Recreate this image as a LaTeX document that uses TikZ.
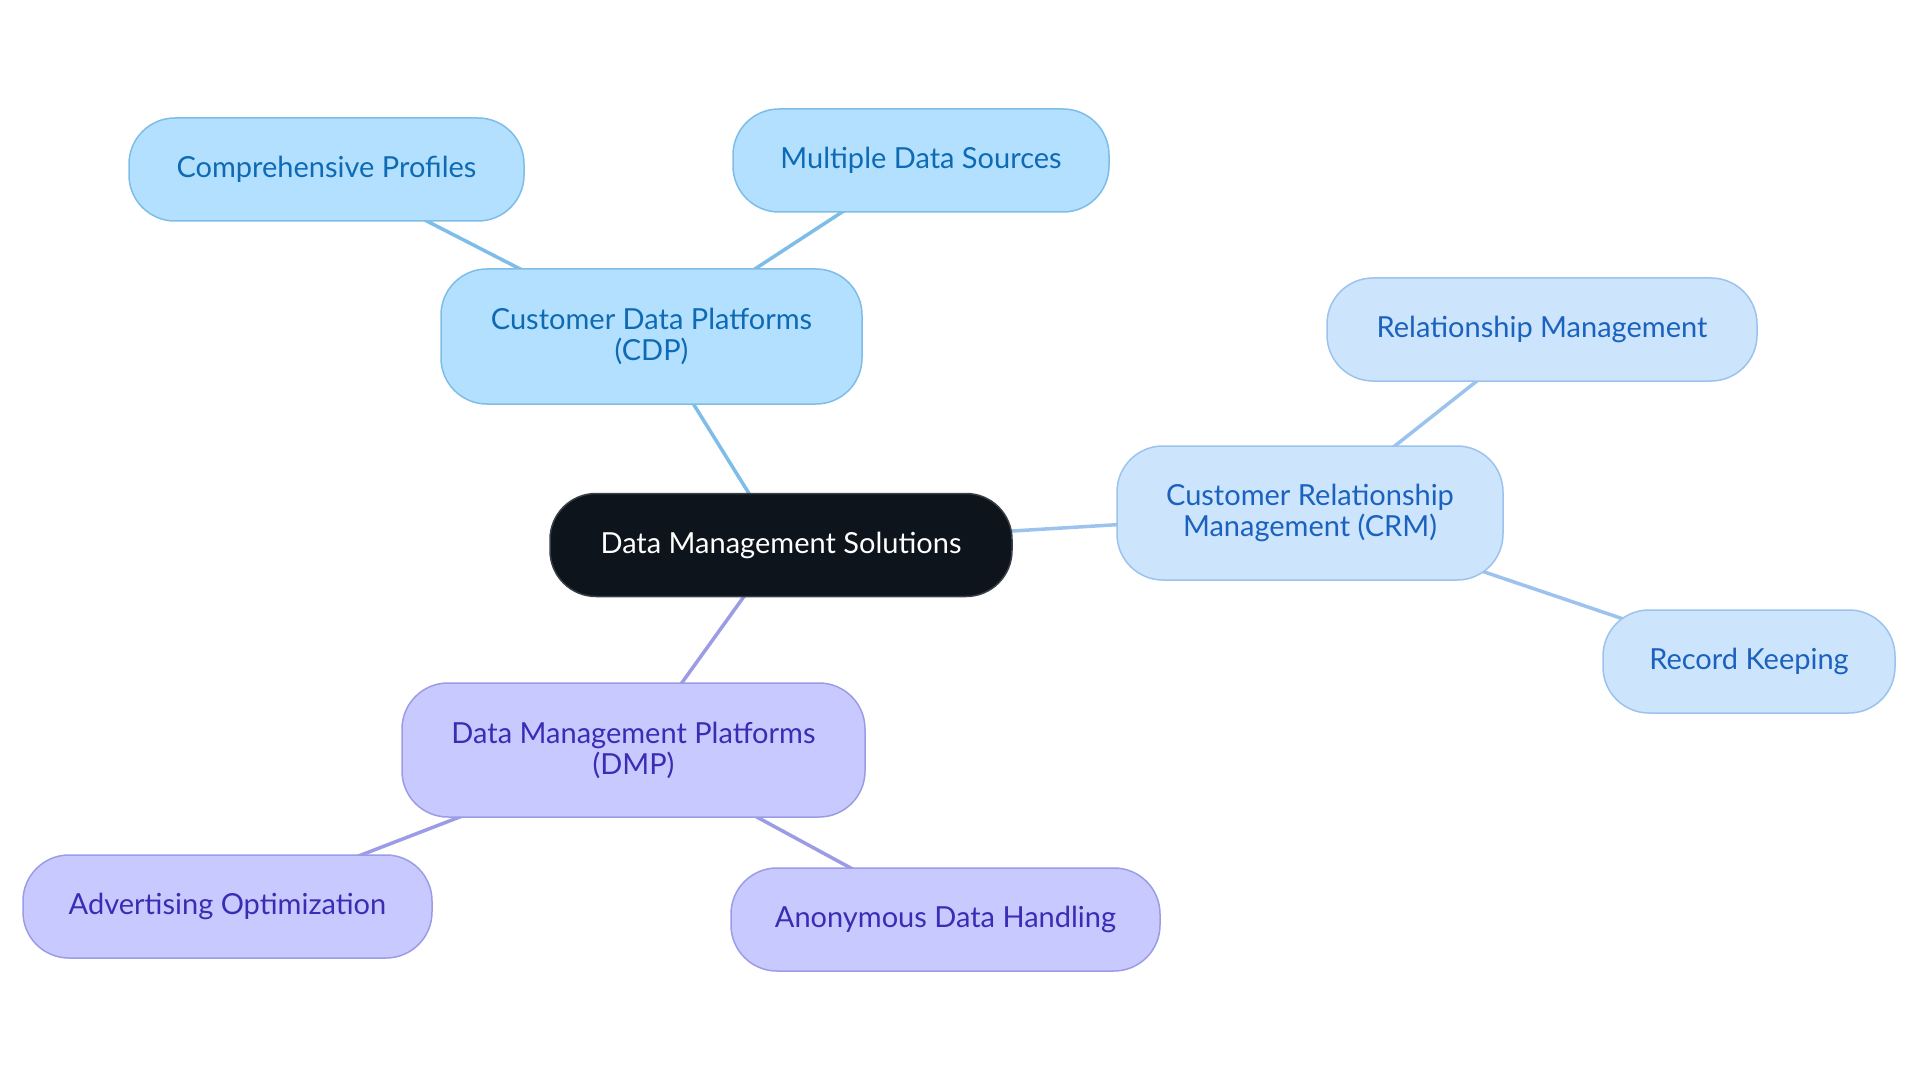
\documentclass[tikz,border=0pt]{standalone}
\usepackage{fontspec}
\setmainfont{Lato}
\usetikzlibrary{backgrounds}
\definecolor{rootfill}{HTML}{0D141C}
\definecolor{rootline}{HTML}{3A4048}
\definecolor{cdpfill}{HTML}{B3E0FF}
\definecolor{cdpline}{HTML}{7DBDE8}
\definecolor{cdptext}{HTML}{0F6AB4}
\definecolor{crmfill}{HTML}{CCE4FC}
\definecolor{crmline}{HTML}{9CC3EE}
\definecolor{crmtext}{HTML}{1B62BE}
\definecolor{dmpfill}{HTML}{C8CAFF}
\definecolor{dmpline}{HTML}{9C9CE6}
\definecolor{dmptext}{HTML}{3A2DB4}
\begin{document}
\begin{tikzpicture}[x=1pt,y=-1pt,
    pill/.style={draw, line width=1.5pt, rounded corners=46pt, align=center,
      inner sep=0pt, font=\fontsize{29}{31}\selectfont},
    root/.style={pill, fill=rootfill, draw=rootline, text=white},
    cdp/.style={pill, fill=cdpfill, draw=cdpline, text=cdptext},
    crm/.style={pill, fill=crmfill, draw=crmline, text=crmtext},
    dmp/.style={pill, fill=dmpfill, draw=dmpline, text=dmptext},
    link/.style={line width=3.5pt}]
  \useasboundingbox (0,0) rectangle (1920,1083);
  % centre
  \node[root, minimum width=462pt, minimum height=103pt] (dms) at (781,545) {Data Management Solutions};
  % customer data platforms
  \node[cdp, minimum width=421pt, minimum height=135pt] (cdp) at (651.5,336.5) {Customer Data Platforms\\(CDP)};
  \node[cdp, minimum width=395pt, minimum height=103pt] (profiles) at (326.5,169.5) {Comprehensive Profiles};
  \node[cdp, minimum width=376pt, minimum height=103pt] (sources) at (921,160.5) {Multiple Data Sources};
  % customer relationship management
  \node[crm, minimum width=386pt, minimum height=134pt] (crm) at (1310,513) {Customer Relationship\\Management (CRM)};
  \node[crm, minimum width=430pt, minimum height=103pt] (relation) at (1542,329.5) {Relationship Management};
  \node[crm, minimum width=292pt, minimum height=103pt] (records) at (1749,661.5) {Record Keeping};
  % data management platforms
  \node[dmp, minimum width=463pt, minimum height=134pt] (dmp) at (633.5,750) {Data Management Platforms\\(DMP)};
  \node[dmp, minimum width=409pt, minimum height=103pt] (advert) at (227.5,906.5) {Advertising Optimization};
  \node[dmp, minimum width=429pt, minimum height=103pt] (anon) at (945.5,919.5) {Anonymous Data Handling};
  \begin{scope}[on background layer]
    \fill[white] (0,0) rectangle (1920,1083);
    \draw[link, cdpline] (dms.center) -- (cdp.center);
    \draw[link, cdpline] (cdp.center) -- (profiles.center);
    \draw[link, cdpline] (cdp.center) -- (sources.center);
    \draw[link, crmline] (dms.center) -- (crm.center);
    \draw[link, crmline] (crm.center) -- (relation.center);
    \draw[link, crmline] (crm.center) -- (records.center);
    \draw[link, dmpline] (dms.center) -- (dmp.center);
    \draw[link, dmpline] (dmp.center) -- (advert.center);
    \draw[link, dmpline] (dmp.center) -- (anon.center);
  \end{scope}
\end{tikzpicture}
\end{document}
